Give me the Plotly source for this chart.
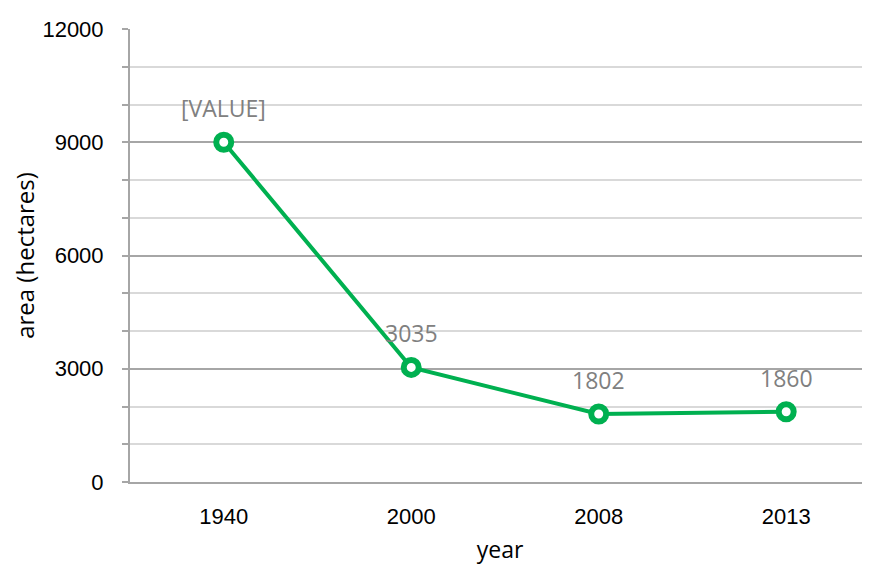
import plotly.graph_objects as go

# dados do gráfico
anos = ['1940', '2000', '2008', '2013']
area = [9000, 3035, 1802, 1860]
rotulos = ['[VALUE]', '3035', '1802', '1860']

verde = '#00B050'
cinza_eixo = '#a6a6a6'

fig = go.Figure()

fig.add_trace(go.Scatter(
    x=anos,
    y=area,
    mode='lines+markers',
    line=dict(color=verde, width=4),
    marker=dict(size=15, color='white', line=dict(color=verde, width=6)),
    cliponaxis=False,
    showlegend=False
))

# rótulos de dados acima de cada ponto (x = índice da categoria)
for i, (valor, rotulo) in enumerate(zip(area, rotulos)):
    fig.add_annotation(
        x=i, y=valor, text=rotulo,
        showarrow=False, yanchor='middle', yshift=34,
        font=dict(family='Open Sans', size=23, color='#808080')
    )

fig.update_xaxes(
    type='category',
    range=[-0.5, 3.447],
    showline=True,
    linecolor=cinza_eixo,
    linewidth=2,
    showgrid=False,
    ticks='',
    tickfont=dict(family='Liberation Sans', size=22, color='black'),
    ticklabelstandoff=14,
    title=dict(text='year', font=dict(family='Open Sans', size=23, color='black'), standoff=14)
)

fig.update_yaxes(
    range=[0, 12000],
    dtick=3000,
    tickformat='d',
    showline=True,
    linecolor=cinza_eixo,
    linewidth=2,
    showgrid=True,
    gridcolor=cinza_eixo,
    gridwidth=1.5,
    ticks='outside',
    ticklen=6,
    tickcolor=cinza_eixo,
    tickwidth=1.5,
    minor=dict(dtick=1000, showgrid=True, gridcolor='#d9d9d9', gridwidth=1.5,
               ticks='outside', ticklen=6, tickcolor=cinza_eixo, tickwidth=1.5),
    tickfont=dict(family='Liberation Sans', size=22, color='black'),
    ticklabelstandoff=14,
    zeroline=False,
    title=dict(text='area (hectares)', font=dict(family='Open Sans', size=24, color='black'), standoff=8)
)

# a página tem margem de 8px, por isso as margens são descontadas
fig.update_layout(
    width=862,
    height=557,
    margin=dict(l=122, r=0, t=21, b=83),
    plot_bgcolor='white',
    paper_bgcolor='white'
)

fig.write_html('out.html')
